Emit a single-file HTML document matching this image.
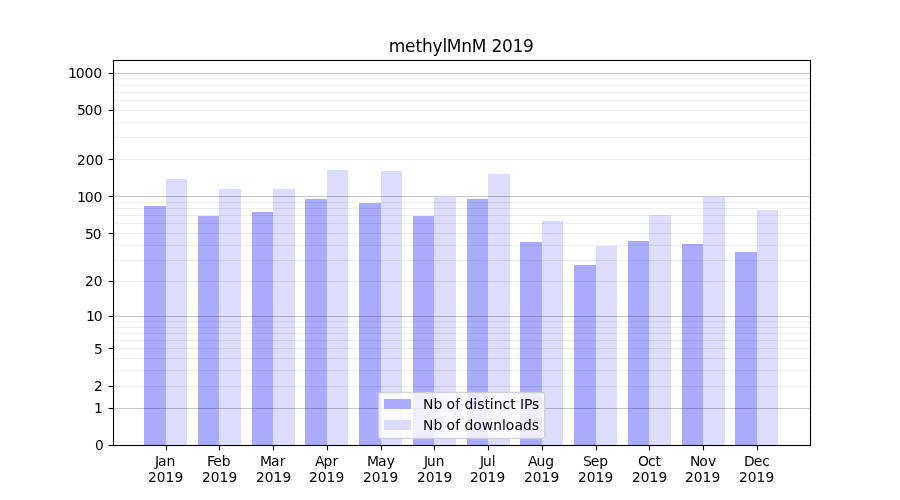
<!DOCTYPE html>
<html><head><meta charset="utf-8"><title>methylMnM 2019</title>
<style>html,body{margin:0;padding:0;background:#fff;width:900px;height:500px;overflow:hidden}
svg{display:block;will-change:transform} text{font-family:"DejaVu Sans","Liberation Sans",sans-serif;fill:#000}</style>
</head><body>
<svg width="900" height="500" viewBox="0 0 900 500">
<rect x="0" y="0" width="900" height="500" fill="#ffffff"/>
<rect x="144" y="206" width="22" height="239" fill="#aaaaff"/>
<rect x="198" y="216" width="21" height="229" fill="#aaaaff"/>
<rect x="252" y="212" width="21" height="233" fill="#aaaaff"/>
<rect x="305" y="199" width="22" height="246" fill="#aaaaff"/>
<rect x="359" y="203" width="22" height="242" fill="#aaaaff"/>
<rect x="413" y="216" width="21" height="229" fill="#aaaaff"/>
<rect x="467" y="199" width="21" height="246" fill="#aaaaff"/>
<rect x="520" y="242" width="22" height="203" fill="#aaaaff"/>
<rect x="574" y="265" width="22" height="180" fill="#aaaaff"/>
<rect x="628" y="241" width="21" height="204" fill="#aaaaff"/>
<rect x="682" y="244" width="21" height="201" fill="#aaaaff"/>
<rect x="735" y="252" width="22" height="193" fill="#aaaaff"/>
<rect x="166" y="179" width="21" height="266" fill="#dcdcff"/>
<rect x="219" y="189" width="22" height="256" fill="#dcdcff"/>
<rect x="273" y="189" width="22" height="256" fill="#dcdcff"/>
<rect x="327" y="170" width="21" height="275" fill="#dcdcff"/>
<rect x="381" y="171" width="21" height="274" fill="#dcdcff"/>
<rect x="434" y="197" width="22" height="248" fill="#dcdcff"/>
<rect x="488" y="174" width="22" height="271" fill="#dcdcff"/>
<rect x="542" y="221" width="21" height="224" fill="#dcdcff"/>
<rect x="596" y="246" width="21" height="199" fill="#dcdcff"/>
<rect x="649" y="215" width="22" height="230" fill="#dcdcff"/>
<rect x="703" y="197" width="22" height="248" fill="#dcdcff"/>
<rect x="757" y="210" width="21" height="235" fill="#dcdcff"/>
<line x1="113" y1="386.5" x2="810" y2="386.5" stroke="#000000" stroke-width="1.111" stroke-opacity="0.065"/>
<line x1="113" y1="370.5" x2="810" y2="370.5" stroke="#000000" stroke-width="1.111" stroke-opacity="0.065"/>
<line x1="113" y1="358.5" x2="810" y2="358.5" stroke="#000000" stroke-width="1.111" stroke-opacity="0.065"/>
<line x1="113" y1="348.5" x2="810" y2="348.5" stroke="#000000" stroke-width="1.111" stroke-opacity="0.065"/>
<line x1="113" y1="340.5" x2="810" y2="340.5" stroke="#000000" stroke-width="1.111" stroke-opacity="0.065"/>
<line x1="113" y1="333.5" x2="810" y2="333.5" stroke="#000000" stroke-width="1.111" stroke-opacity="0.065"/>
<line x1="113" y1="327.5" x2="810" y2="327.5" stroke="#000000" stroke-width="1.111" stroke-opacity="0.065"/>
<line x1="113" y1="321.5" x2="810" y2="321.5" stroke="#000000" stroke-width="1.111" stroke-opacity="0.065"/>
<line x1="113" y1="281.5" x2="810" y2="281.5" stroke="#000000" stroke-width="1.111" stroke-opacity="0.065"/>
<line x1="113" y1="260.5" x2="810" y2="260.5" stroke="#000000" stroke-width="1.111" stroke-opacity="0.065"/>
<line x1="113" y1="245.5" x2="810" y2="245.5" stroke="#000000" stroke-width="1.111" stroke-opacity="0.065"/>
<line x1="113" y1="233.5" x2="810" y2="233.5" stroke="#000000" stroke-width="1.111" stroke-opacity="0.065"/>
<line x1="113" y1="223.5" x2="810" y2="223.5" stroke="#000000" stroke-width="1.111" stroke-opacity="0.065"/>
<line x1="113" y1="215.5" x2="810" y2="215.5" stroke="#000000" stroke-width="1.111" stroke-opacity="0.065"/>
<line x1="113" y1="208.5" x2="810" y2="208.5" stroke="#000000" stroke-width="1.111" stroke-opacity="0.065"/>
<line x1="113" y1="202.5" x2="810" y2="202.5" stroke="#000000" stroke-width="1.111" stroke-opacity="0.065"/>
<line x1="113" y1="159.5" x2="810" y2="159.5" stroke="#000000" stroke-width="1.111" stroke-opacity="0.065"/>
<line x1="113" y1="137.5" x2="810" y2="137.5" stroke="#000000" stroke-width="1.111" stroke-opacity="0.065"/>
<line x1="113" y1="122.5" x2="810" y2="122.5" stroke="#000000" stroke-width="1.111" stroke-opacity="0.065"/>
<line x1="113" y1="110.5" x2="810" y2="110.5" stroke="#000000" stroke-width="1.111" stroke-opacity="0.065"/>
<line x1="113" y1="100.5" x2="810" y2="100.5" stroke="#000000" stroke-width="1.111" stroke-opacity="0.065"/>
<line x1="113" y1="92.5" x2="810" y2="92.5" stroke="#000000" stroke-width="1.111" stroke-opacity="0.065"/>
<line x1="113" y1="85.5" x2="810" y2="85.5" stroke="#000000" stroke-width="1.111" stroke-opacity="0.065"/>
<line x1="113" y1="78.5" x2="810" y2="78.5" stroke="#000000" stroke-width="1.111" stroke-opacity="0.065"/>
<line x1="113" y1="408.5" x2="810" y2="408.5" stroke="#000000" stroke-width="1.111" stroke-opacity="0.22"/>
<line x1="113" y1="316.5" x2="810" y2="316.5" stroke="#000000" stroke-width="1.111" stroke-opacity="0.22"/>
<line x1="113" y1="196.5" x2="810" y2="196.5" stroke="#000000" stroke-width="1.111" stroke-opacity="0.22"/>
<line x1="113" y1="73.5" x2="810" y2="73.5" stroke="#000000" stroke-width="1.111" stroke-opacity="0.22"/>
<path d="M113.5 445.5V60.5H810.5V445.5Z" fill="none" stroke="#000" stroke-width="1.111" stroke-linecap="square"/>
<line x1="113.0" y1="59.5" x2="811.0" y2="59.5" stroke="#000" stroke-width="1" stroke-opacity="0.055"/>
<line x1="113.0" y1="61.5" x2="811.0" y2="61.5" stroke="#000" stroke-width="1" stroke-opacity="0.055"/>
<line x1="113.0" y1="444.5" x2="811.0" y2="444.5" stroke="#000" stroke-width="1" stroke-opacity="0.055"/>
<line x1="113.0" y1="446.5" x2="811.0" y2="446.5" stroke="#000" stroke-width="1" stroke-opacity="0.055"/>
<line x1="108.63888888888889" y1="445.5" x2="113.5" y2="445.5" stroke="#000" stroke-width="1.111"/>
<line x1="108.63888888888889" y1="408.5" x2="113.5" y2="408.5" stroke="#000" stroke-width="1.111"/>
<line x1="108.63888888888889" y1="386.5" x2="113.5" y2="386.5" stroke="#000" stroke-width="1.111"/>
<line x1="108.63888888888889" y1="348.5" x2="113.5" y2="348.5" stroke="#000" stroke-width="1.111"/>
<line x1="108.63888888888889" y1="316.5" x2="113.5" y2="316.5" stroke="#000" stroke-width="1.111"/>
<line x1="108.63888888888889" y1="281.5" x2="113.5" y2="281.5" stroke="#000" stroke-width="1.111"/>
<line x1="108.63888888888889" y1="233.5" x2="113.5" y2="233.5" stroke="#000" stroke-width="1.111"/>
<line x1="108.63888888888889" y1="196.5" x2="113.5" y2="196.5" stroke="#000" stroke-width="1.111"/>
<line x1="108.63888888888889" y1="159.5" x2="113.5" y2="159.5" stroke="#000" stroke-width="1.111"/>
<line x1="108.63888888888889" y1="110.5" x2="113.5" y2="110.5" stroke="#000" stroke-width="1.111"/>
<line x1="108.63888888888889" y1="73.5" x2="113.5" y2="73.5" stroke="#000" stroke-width="1.111"/>
<line x1="166.5" y1="445.5" x2="166.5" y2="450.3611111111111" stroke="#000" stroke-width="1.111"/>
<line x1="219.5" y1="445.5" x2="219.5" y2="450.3611111111111" stroke="#000" stroke-width="1.111"/>
<line x1="273.5" y1="445.5" x2="273.5" y2="450.3611111111111" stroke="#000" stroke-width="1.111"/>
<line x1="327.5" y1="445.5" x2="327.5" y2="450.3611111111111" stroke="#000" stroke-width="1.111"/>
<line x1="381.5" y1="445.5" x2="381.5" y2="450.3611111111111" stroke="#000" stroke-width="1.111"/>
<line x1="434.5" y1="445.5" x2="434.5" y2="450.3611111111111" stroke="#000" stroke-width="1.111"/>
<line x1="488.5" y1="445.5" x2="488.5" y2="450.3611111111111" stroke="#000" stroke-width="1.111"/>
<line x1="542.5" y1="445.5" x2="542.5" y2="450.3611111111111" stroke="#000" stroke-width="1.111"/>
<line x1="596.5" y1="445.5" x2="596.5" y2="450.3611111111111" stroke="#000" stroke-width="1.111"/>
<line x1="649.5" y1="445.5" x2="649.5" y2="450.3611111111111" stroke="#000" stroke-width="1.111"/>
<line x1="703.5" y1="445.5" x2="703.5" y2="450.3611111111111" stroke="#000" stroke-width="1.111"/>
<line x1="757.5" y1="445.5" x2="757.5" y2="450.3611111111111" stroke="#000" stroke-width="1.111"/>
<path d="M381.253 438.556 L541.947 438.556 Q544.725 438.556 544.725 435.778 L544.725 395.278 Q544.725 392.500 541.947 392.500 L381.253 392.500 Q378.475 392.500 378.475 395.278 L378.475 435.778 Q378.475 438.556 381.253 438.556 Z" fill="#ffffff" fill-opacity="0.8" stroke="#cccccc" stroke-opacity="0.8" stroke-width="1.389" stroke-linejoin="miter"/>
<rect x="384" y="399" width="27" height="10" fill="#aaaaff"/>
<rect x="384" y="420" width="27" height="10" fill="#dcdcff"/>
<text id="t0" x="154.994 157.994 166.619" y="466.28" font-size="14.028">Jan</text>
<text id="t1" x="148.026 156.776 165.526 174.401" y="481.83" font-size="13.750">2019</text>
<text id="t2" x="207.017 213.267 221.767" y="466.28" font-size="13.889">Feb</text>
<text id="t3" x="202.012 210.762 219.512 228.387" y="481.83" font-size="13.750">2019</text>
<text id="t4" x="259.945 270.945 279.820" y="466.28" font-size="13.889">Mar</text>
<text id="t5" x="256.124 264.874 273.624 282.499" y="481.83" font-size="13.750">2019</text>
<text id="t6" x="314.895 323.395 332.520" y="466.28" font-size="13.889">Apr</text>
<text id="t7" x="309.110 317.860 326.610 335.485" y="481.83" font-size="13.750">2019</text>
<text id="t8" x="366.913 377.913 386.788" y="466.28" font-size="13.889">May</text>
<text id="t9" x="363.097 371.847 380.597 389.472" y="481.83" font-size="13.750">2019</text>
<text id="t10" x="423.906 426.906 435.656" y="466.28" font-size="13.750">Jun</text>
<text id="t11" x="417.083 425.833 434.583 443.458" y="481.83" font-size="13.750">2019</text>
<text id="t12" x="480.114 483.114 491.864" y="466.28" font-size="13.750">Jul</text>
<text id="t13" x="470.070 478.820 487.570 496.445" y="481.83" font-size="13.750">2019</text>
<text id="t14" x="528.045 536.545 545.295" y="466.28" font-size="13.889">Aug</text>
<text id="t15" x="523.931 532.681 541.431 550.556" y="481.83" font-size="13.750">2019</text>
<text id="t16" x="583.001 590.751 599.251" y="466.28" font-size="13.889">Sep</text>
<text id="t17" x="577.918 586.668 595.418 604.543" y="481.83" font-size="13.750">2019</text>
<text id="t18" x="637.945 648.070 655.445" y="466.28" font-size="13.889">Oct</text>
<text id="t19" x="632.029 640.779 649.529 658.404" y="481.83" font-size="13.750">2019</text>
<text id="t20" x="689.885 699.260 708.010" y="466.28" font-size="13.889">Nov</text>
<text id="t21" x="685.016 693.766 702.516 711.391" y="481.83" font-size="13.750">2019</text>
<text id="t22" x="744.112 753.862 762.362" y="466.28" font-size="13.889">Dec</text>
<text id="t23" x="739.002 747.752 756.502 765.377" y="481.83" font-size="13.750">2019</text>
<text id="t24" x="95.028" y="450.28" font-size="13.747">0</text>
<text id="t25" x="93.903" y="412.91" font-size="14.028">1</text>
<text id="t26" x="94.028" y="391.06" font-size="13.750">2</text>
<text id="t27" x="94.028" y="353.70" font-size="13.889">5</text>
<text id="t28" x="85.903 93.778" y="321.02" font-size="14.028">10</text>
<text id="t29" x="84.903 93.653" y="286.17" font-size="13.750">20</text>
<text id="t30" x="85.028 92.778" y="238.84" font-size="13.750">50</text>
<text id="t31" x="76.903 84.778 93.528" y="201.51" font-size="14.025">100</text>
<text id="t32" x="77.028 85.778 94.528" y="164.92" font-size="13.747">200</text>
<text id="t33" x="77.028 84.778 93.528" y="115.19" font-size="13.750">500</text>
<text id="t34" x="67.903 75.778 84.528 93.278" y="77.88" font-size="14.025">1000</text>
<text id="t35" x="388.750 405.000 415.500 422.000 432.500 442.375 446.750 461.125 471.625 486.250 491.500 501.875 512.375 523.000" y="51.67" font-size="16.995">methylMnM 2019</text>
<text id="t36" x="423.120 433.495 442.370 446.495 455.245 460.245 464.620 473.245 477.370 484.495 489.745 493.870 502.620 510.245 515.745 520.120 524.120 531.995" y="409.23" font-size="13.889">Nb of distinct IPs</text>
<text id="t37" x="423.120 433.495 442.370 446.495 455.245 460.245 464.620 473.245 481.745 493.370 502.120 505.745 514.495 523.120 531.745" y="429.61" font-size="13.889">Nb of downloads</text>
</svg>
</body></html>
